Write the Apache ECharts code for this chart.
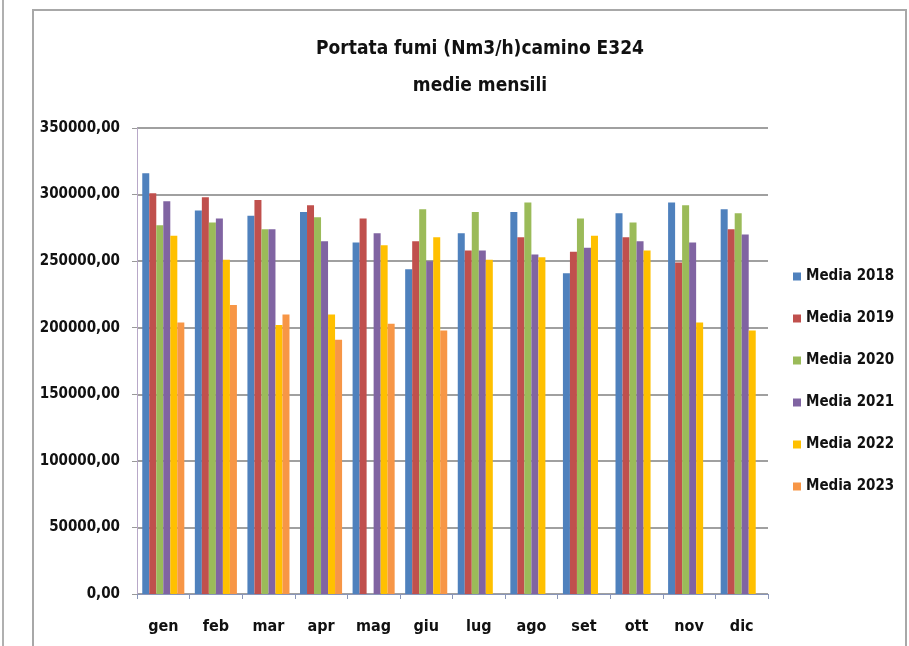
<!DOCTYPE html>
<html>
<head>
<meta charset="utf-8">
<script src="https://cdn.jsdelivr.net/npm/echarts@6/dist/echarts.min.js"></script>
<style>
  html, body { margin: 0; padding: 0; background: #fff; }
  #chart { width: 909px; height: 646px; }
</style>
</head>
<body>
<div id="chart"></div>
<script>
var mesi = ['gen', 'feb', 'mar', 'apr', 'mag', 'giu', 'lug', 'ago', 'set', 'ott', 'nov', 'dic'];
var media2018 = [316000, 288000, 284000, 287000, 264000, 244000, 271000, 287000, 241000, 286000, 294000, 289000];
var media2019 = [301000, 298000, 296000, 292000, 282000, 265000, 258000, 268000, 257000, 268000, 249000, 274000];
var media2020 = [277000, 279000, 274000, 283000, null, 289000, 287000, 294000, 282000, 279000, 292000, 286000];
var media2021 = [295000, 282000, 274000, 265000, 271000, 250000, 258000, 255000, 260000, 265000, 264000, 270000];
var media2022 = [269000, 251000, 202000, 210000, 262000, 268000, 251000, 253000, 269000, 258000, 204000, 198000];
var media2023 = [204000, 217000, 210000, 191000, 203000, 198000, null, null, null, null, null, null];

var font = "'Liberation Sans Narrow', 'DejaVu Sans Condensed', sans-serif";
var colori = ['#4F81BD', '#C0504D', '#9BBB59', '#8064A2', '#FFC000', '#F79646'];

function serie(nome, dati) {
    return {
        name: nome,
        type: 'bar',
        data: dati,
        barGap: '0%',
        barCategoryGap: '20%'
    };
}

var myChart = echarts.init(document.getElementById('chart'));
var option = {
    animation: false,
    color: colori,
    textStyle: { fontFamily: font },
    title: {
        text: 'Portata fumi (Nm3/h)camino E324\nmedie mensili',
        left: 475,
        top: 26,
        textAlign: 'center',
        textStyle: {
            fontFamily: font,
            fontSize: 19,
            fontWeight: 'bold',
            color: '#111',
            lineHeight: 37
        }
    },
    legend: {
        orient: 'vertical',
        left: 788,
        top: 264,
        itemWidth: 8,
        itemHeight: 8,
        itemGap: 27,
        icon: 'rect',
        textStyle: { fontFamily: font, fontSize: 15, fontWeight: 'bold', color: '#111' }
    },
    grid: { left: 137, right: 141, top: 128, bottom: 52 },
    xAxis: {
        type: 'category',
        data: mesi,
        axisLine: { lineStyle: { color: '#8a96b8', width: 1 } },
        axisTick: { show: true, length: 5, lineStyle: { color: '#8a96b8' } },
        axisLabel: { margin: 25, fontFamily: font, fontSize: 16, fontWeight: 'bold', color: '#111' }
    },
    yAxis: {
        type: 'value',
        min: 0,
        max: 350000,
        interval: 50000,
        axisLine: { show: true, lineStyle: { color: '#b8a8c8' } },
        axisTick: { show: true, length: 5, lineStyle: { color: '#999' } },
        splitLine: { lineStyle: { color: '#a0a0a0', width: 2 } },
        axisLabel: {
            margin: 17,
            fontFamily: font,
            fontSize: 15,
            fontWeight: 'bold',
            color: '#111',
            formatter: function (v) { return v.toFixed(2).replace('.', ','); }
        }
    },
    graphic: [
        { type: 'rect', shape: { x: 33, y: 10, width: 873, height: 660 }, style: { fill: 'none', stroke: '#a8a8a8', lineWidth: 2 }, z: -1 },
        { type: 'line', shape: { x1: 3, y1: 0, x2: 3, y2: 646 }, style: { stroke: '#b0b0b0', lineWidth: 2 } }
    ],
    series: [
        serie('Media 2018', media2018),
        serie('Media 2019', media2019),
        serie('Media 2020', media2020),
        serie('Media 2021', media2021),
        serie('Media 2022', media2022),
        serie('Media 2023', media2023)
    ]
};
myChart.setOption(option);
window.addEventListener('resize', function () {
    myChart.resize();
});
</script>
</body>
</html>
